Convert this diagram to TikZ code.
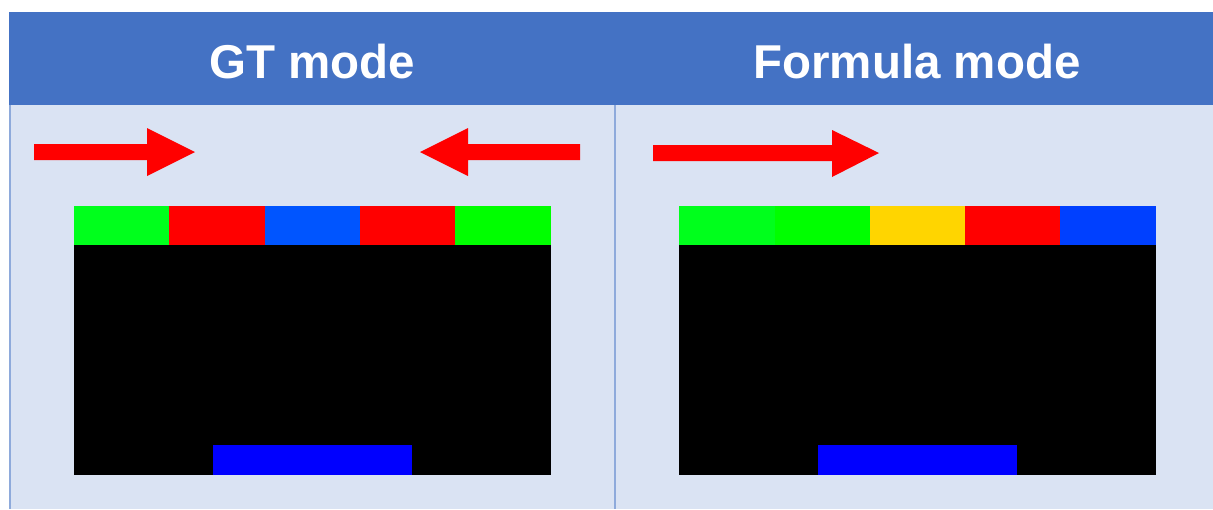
\documentclass[tikz,border=0pt]{standalone}
\usepackage{fontspec}
\setmainfont{Liberation Sans}
\definecolor{hdr}{HTML}{4472C4}
\definecolor{panel}{HTML}{DAE3F3}
\definecolor{divline}{HTML}{8EAADB}
\definecolor{gA}{HTML}{00FF1C}
\definecolor{gB}{HTML}{00FF00}
\definecolor{rr}{HTML}{FF0000}
\definecolor{bA}{HTML}{0055FF}
\definecolor{bB}{HTML}{0040FF}
\definecolor{yy}{HTML}{FFD500}
\definecolor{pad}{HTML}{0000FF}
\begin{document}
\begin{tikzpicture}[x=1pt,y=-1pt,
  title/.style={text=white,font=\bfseries\fontsize{47.5}{50}\selectfont,inner sep=0pt,anchor=center},
  arr/.style={fill=rr,draw=none}]
\useasboundingbox (0,0) rectangle (1213,509);
\fill[white] (0,0) rectangle (1213,509);
% panel and header
\fill[panel] (9,105) rectangle (1213,509);
\fill[hdr] (9,12) rectangle (1213,105);
\fill[divline] (9,105) rectangle (11,509);
\fill[divline] (614,105) rectangle (616,509);
\node[title] (t1) at (312,62) {GT mode};
\node[title] (t2) at (917,62) {Formula mode};
% arrows
\fill[arr] (34,144) -- (147,144) -- (147,128) -- (195,152) -- (147,176) -- (147,160) -- (34,160) -- cycle;
\fill[arr] (580,144) -- (468,144) -- (468,128) -- (420,152) -- (468,176) -- (468,160) -- (580,160) -- cycle;
\fill[arr] (653,145) -- (832,145) -- (832,130) -- (879,153) -- (832,177) -- (832,161) -- (653,161) -- cycle;
% left game
\fill[black] (74,245) rectangle (551,475);
\fill[gA] (74,206) rectangle (169,245);
\fill[rr] (169,206) rectangle (265,245);
\fill[bA] (265,206) rectangle (360,245);
\fill[rr] (360,206) rectangle (455,245);
\fill[gB] (455,206) rectangle (551,245);
\fill[pad] (213,445) rectangle (412,475);
% right game
\fill[black] (679,245) rectangle (1156,475);
\fill[gA] (679,206) rectangle (775,245);
\fill[gB] (775,206) rectangle (870,245);
\fill[yy] (870,206) rectangle (965,245);
\fill[rr] (965,206) rectangle (1060,245);
\fill[bB] (1060,206) rectangle (1156,245);
\fill[pad] (818,445) rectangle (1017,475);
\end{tikzpicture}
\end{document}
